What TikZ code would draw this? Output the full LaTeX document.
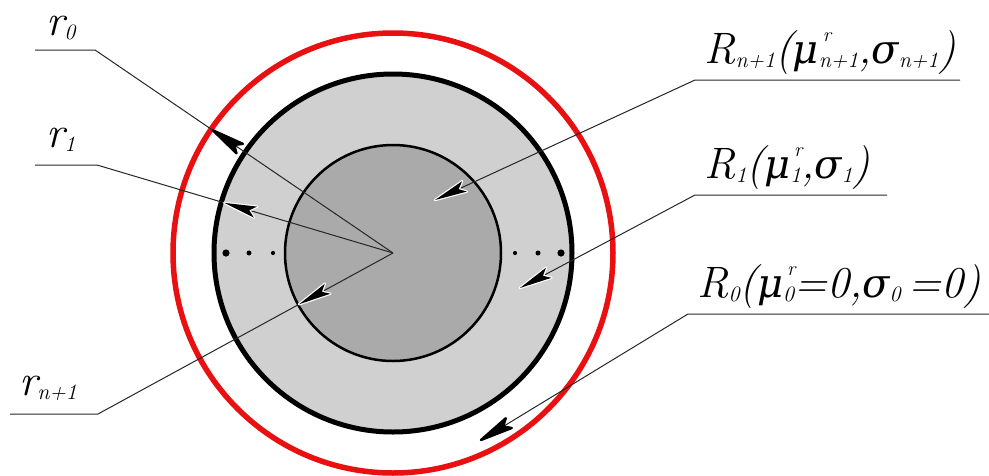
\documentclass[tikz,border=0pt]{standalone}
\usepackage{fontspec}
\newfontfamily\gkfont{DejaVu Serif}
\usetikzlibrary{calc}
\newcommand\gk[1]{{\gkfont\itshape\fontsize{40}{40}\selectfont #1}}
\newcommand\lsb[1]{\raisebox{-4pt}{\fontsize{22}{22}\selectfont #1}}
\newcommand\lspsb[2]{\rlap{\hspace{4pt}\raisebox{22pt}{\fontsize{20}{20}\selectfont #1}}\lsb{#2}}
\newcommand\ahead[3][black]{%
  \filldraw[fill=#1, draw=#1, line width=2.4pt, line join=round]
    (#2) -- ($(#2)!33pt!10:(#3)$) -- ($(#2)!26pt!(#3)$) -- ($(#2)!33pt!-10:(#3)$) -- cycle;
  \fill[black]
    (#2) -- ($(#2)!33pt!10:(#3)$) -- ($(#2)!26pt!(#3)$) -- ($(#2)!33pt!-10:(#3)$) -- cycle;}
\definecolor{ringred}{RGB}{232,16,16}
\definecolor{annulus}{RGB}{208,208,208}
\definecolor{core}{RGB}{170,170,170}
\tikzset{
  lbl/.style={inner sep=0pt, anchor=base west, font=\fontsize{44}{44}\selectfont\itshape},
  leader/.style={draw=black!85, line width=1pt},
  dotmark/.style={fill=black}
}
\begin{document}
\begin{tikzpicture}[x=1pt,y=-1pt]
\useasboundingbox (0,0) rectangle (989,475);
\coordinate (C) at (393,253);
% circles
\draw[ringred, line width=5.5pt] (C) circle[radius=220];
\filldraw[fill=annulus, draw=black, line width=5pt] (C) circle[radius=179];
\filldraw[fill=core, draw=black, line width=2.5pt] (C) circle[radius=108];
% dots
\fill[dotmark] (226,253) circle[radius=3.6];
\fill[dotmark] (249,253) circle[radius=2.5];
\fill[dotmark] (273,253) circle[radius=2.1];
\fill[dotmark] (515,253) circle[radius=2.1];
\fill[dotmark] (538,253) circle[radius=2.5];
\fill[dotmark] (561,253) circle[radius=3.6];
% labels
\node[lbl] (tr0) at (46,35) {r\lsb{0}};
\node[lbl] (tr1) at (46,147) {r\lsb{1}};
\node[lbl] (trn) at (19,395) {r\lsb{n+1}};
\node[lbl] (tRn) at (704,63) {R\lsb{n+1}(\gk{μ}\lspsb{r}{n+1},\gk{σ}\lsb{n+1})};
\node[lbl] (tR1) at (704,178) {R\lsb{1}(\gk{μ}\lspsb{r}{1},\gk{σ}\lsb{1})};
\node[lbl] (tR0) at (697,297) {R\lsb{0}(\gk{μ}\lspsb{r}{0}=0,\gk{σ}\lsb{0}\,=0)};
% leader coordinates
\coordinate (r0a) at (35,50);  \coordinate (r0k) at (95,50);
\coordinate (r1a) at (35,165); \coordinate (r1k) at (97,165);
\coordinate (rna) at (10,414); \coordinate (rnk) at (98,414);
\coordinate (Rna) at (960,80); \coordinate (Rnk) at (695,80); \coordinate (Rnt) at (435,200);
\coordinate (R1a) at (887,195); \coordinate (R1k) at (695,195); \coordinate (R1t) at (520,288);
\coordinate (R0a) at (989,314); \coordinate (R0k) at (688,314); \coordinate (R0t) at (481,440);
\coordinate (r0t) at ($(C)!218pt!(r0k)$);
\coordinate (r1t) at ($(C)!176pt!(r1k)$);
\coordinate (rnt) at ($(C)!107pt!(rnk)$);
% leaders
\draw[leader] (r0a) -- (r0k) -- (C);
\draw[leader] (r1a) -- (r1k) -- (C);
\draw[leader] (rna) -- (rnk) -- (C);
\draw[leader] (Rna) -- (Rnk) -- (Rnt);
\draw[leader] (R1a) -- (R1k) -- (R1t);
\draw[leader] (R0a) -- (R0k) -- (R0t);
% arrowheads
\ahead[black]{r0t}{C}
\ahead[white]{r1t}{C}
\ahead[white]{rnt}{C}
\ahead[white]{Rnt}{Rnk}
\ahead[white]{R1t}{R1k}
\ahead[black]{R0t}{R0k}
\end{tikzpicture}
\end{document}
